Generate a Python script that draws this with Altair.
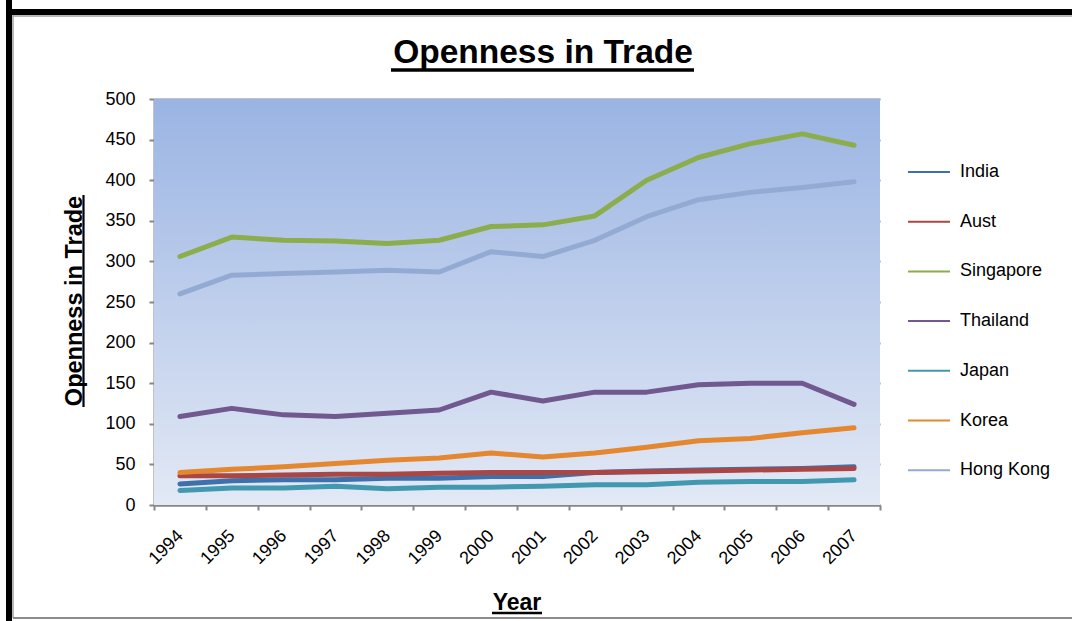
import altair as alt
import pandas as pd

years = [str(y) for y in range(1994, 2008)]
series_names = ["India", "Aust", "Singapore", "Thailand", "Japan", "Korea", "Hong Kong"]
india = [26, 30, 31, 31, 33, 33, 35, 35, 40, 42, 43, 44, 45, 47]
aust = [36, 36, 37, 38, 38, 39, 40, 40, 40, 41, 42, 43, 44, 45]
singapore = [306, 330, 326, 325, 322, 326, 343, 345, 356, 400, 428, 445, 457, 443]
thailand = [109, 119, 111, 109, 113, 117, 139, 128, 139, 139, 148, 150, 150, 124]
japan = [18, 21, 21, 23, 20, 22, 22, 23, 25, 25, 28, 29, 29, 31]
korea = [40, 44, 47, 51, 55, 58, 64, 59, 64, 71, 79, 82, 89, 95]
hongkong = [260, 283, 285, 287, 289, 287, 312, 306, 326, 355, 376, 385, 391, 398]
colors = ["#3E70AC", "#AA4643", "#8CAD4C", "#71588F", "#4198AF", "#E4872F", "#93ABD3"]
y_ticks = list(range(0, 501, 50))

all_values = [india, aust, singapore, thailand, japan, korea, hongkong]
rows = []
for name, vals in zip(series_names, all_values):
    for yr, v in zip(years, vals):
        rows.append({"Year": yr, "Series": name, "Value": v, "order": series_names.index(name)})
df = pd.DataFrame(rows)

W, H = 726, 406
FONT = "Liberation Sans"
ann = pd.DataFrame({"k": [0]})

bg = alt.Chart(ann).mark_rect(
    color=alt.Gradient(
        gradient="linear",
        stops=[alt.GradientStop(color="#9AB4E3", offset=0),
               alt.GradientStop(color="#E3E9F5", offset=1)],
        x1=0, x2=0, y1=0, y2=1,
    )
).encode(x=alt.value(0), x2=alt.value(W), y=alt.value(0), y2=alt.value(H))

lines = alt.Chart(df).mark_line(strokeWidth=5, strokeJoin="round", strokeCap="round").encode(
    x=alt.X("Year:O", sort=years, bandPosition=0.5,
            scale=alt.Scale(type="band", paddingInner=0, paddingOuter=0),
            axis=alt.Axis(title=None, tickBand="extent", labelAngle=315, labelAlign="right",
                          labelBaseline="middle", labelPadding=23, labelFontSize=18,
                          labelFont=FONT, labelColor="#000000", tickSize=5, tickColor="#878787",
                          tickWidth=2, domainColor="#878787", domainWidth=2, grid=False)),
    y=alt.Y("Value:Q", scale=alt.Scale(domain=[0, 500], nice=False),
            axis=alt.Axis(title=None, values=y_ticks, labelFontSize=18, labelFont=FONT,
                          labelColor="#000000", labelPadding=14, tickSize=5, tickColor="#878787",
                          tickWidth=2, domainColor="#878787", domainWidth=2, grid=True,
                          gridColor="#888888", gridWidth=2)),
    color=alt.Color("Series:N", sort=series_names,
                    scale=alt.Scale(domain=series_names, range=colors),
                    legend=alt.Legend(title=None, orient="none", legendX=753, legendY=51,
                                      symbolType="stroke", symbolSize=1764, symbolStrokeWidth=2,
                                      labelFontSize=18, labelFont=FONT, labelColor="#000000",
                                      labelOffset=9, rowPadding=18.7)),
    order=alt.Order("order:Q"),
    detail="Series:N",
)

def text(t, x, y, size, angle=0):
    return alt.Chart(ann).mark_text(
        text=t, fontSize=size, fontWeight="bold", font=FONT, color="#000000",
        align="center", baseline="alphabetic", angle=angle
    ).encode(x=alt.value(x), y=alt.value(y))

def rule(x, x2, y, y2, w, c):
    return alt.Chart(ann).mark_rule(strokeWidth=w, color=c).encode(
        x=alt.value(x), x2=alt.value(x2), y=alt.value(y), y2=alt.value(y2))

title = text("Openness in Trade", 389, -36, 33.5)
title_ul = rule(237, 540, -29, -29, 3.5, "#000000")
ytitle = text("Openness in Trade", -72.5, 202, 23.5, angle=270)
ytitle_ul = rule(-70.5, -70.5, 96, 308, 2.2, "#000000")
xtitle = text("Year", 363, 511, 23)
xtitle_ul = rule(338, 388, 514, 514, 2.3, "#000000")

frame = [
    rule(-145, -145, -99, 522, 6, "#000000"),
    rule(-148, 918, -87, -87, 6, "#000000"),
    rule(-141, -141, -84, 519, 1.5, "#A0A0A0"),
    rule(-141, 918, -83, -83, 1.5, "#A0A0A0"),
    rule(-141, 918, 519, 519, 2, "#8C8C8C"),
]

chart = alt.layer(bg, lines, title, title_ul, ytitle, ytitle_ul, xtitle, xtitle_ul, *frame).properties(
    width=W, height=H,
    autosize=alt.AutoSizeParams(type="none"),
    padding={"left": 154, "top": 99, "right": 192, "bottom": 116},
    background="#FFFFFF",
).configure_view(stroke=None)

chart.save("out.html", embed_options={"renderer": "svg", "actions": False})
